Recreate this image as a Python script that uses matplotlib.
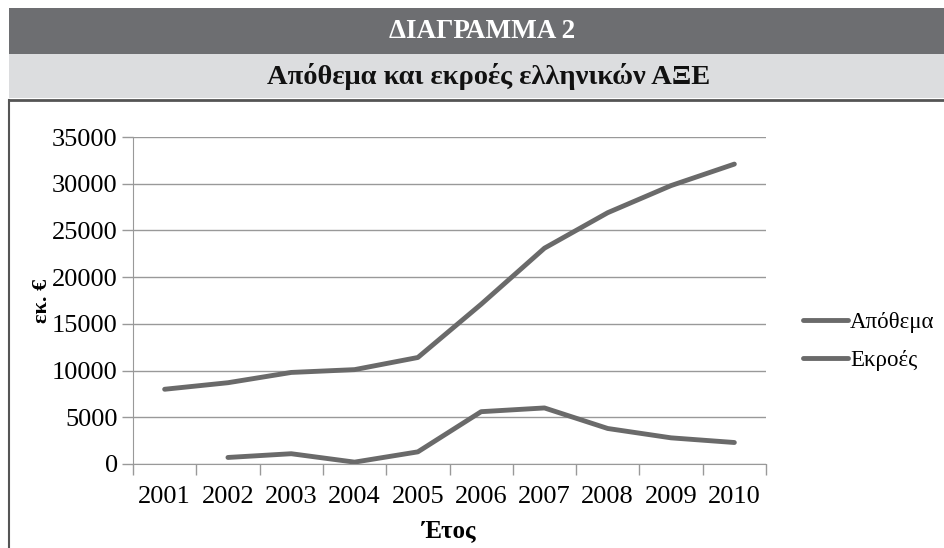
import matplotlib.pyplot as plt
from matplotlib.patches import Rectangle
from matplotlib.lines import Line2D

years = ['2001', '2002', '2003', '2004', '2005', '2006', '2007', '2008', '2009', '2010']
apothema = [8000, 8700, 9800, 10100, 11400, 17100, 23100, 26900, 29800, 32100]
ekroes = [None, 700, 1100, 200, 1300, 5600, 6000, 3800, 2800, 2300]

plt.rcParams['font.family'] = ['Liberation Serif', 'DejaVu Serif']

W, H = 945, 548
fig = plt.figure(figsize=(W / 100, H / 100), dpi=100)
fig.patch.set_facecolor('white')

# header bands
fig.add_artist(Rectangle((9 / W, 1 - 54 / H), 1, 46 / H, transform=fig.transFigure,
                         facecolor='#6d6e71', edgecolor='none'))
fig.add_artist(Rectangle((9 / W, 1 - 98 / H), 1, 44 / H, transform=fig.transFigure,
                         facecolor='#dcdddf', edgecolor='none'))
fig.text(482 / W, 1 - 31 / H, 'ΔΙΑΓΡΑΜΜΑ 2', color='white', fontsize=19.5, fontweight='bold',
         ha='center', va='center')
fig.text(489 / W, 1 - 77 / H, 'Απόθεμα και εκροές ελληνικών ΑΞΕ', color='#111111', fontsize=20.5,
         fontweight='bold', ha='center', va='center')

# frame lines
fig.add_artist(Line2D([9.5 / W, 1], [1 - 99.5 / H, 1 - 99.5 / H], transform=fig.transFigure,
                      color='#555555', lw=2))
fig.add_artist(Line2D([9.5 / W, 9.5 / W], [1 - 99.5 / H, 0], transform=fig.transFigure,
                      color='#555555', lw=1.5))

ax = fig.add_axes([133 / W, 1 - 464 / H, (766 - 133) / W, (464 - 137) / H])
x = list(range(len(years)))
line_color = '#6a6a6a'
ax.plot(x, apothema, color=line_color, lw=3.5, solid_capstyle='round', label='Απόθεμα')
ax.plot(x[1:], ekroes[1:], color=line_color, lw=3.5, solid_capstyle='round', label='Εκροές')

ax.set_xlim(-0.5, len(years) - 0.5)
ax.set_ylim(0, 35000)
ax.set_yticks(range(0, 35001, 5000))
ax.set_yticklabels([str(v) for v in range(0, 35001, 5000)], fontsize=19)
ax.set_xticks(x)
ax.set_xticklabels(years, fontsize=19)
ax.set_xticks([i - 0.5 for i in range(len(years) + 1)], minor=True)
ax.tick_params(axis='x', which='major', length=0, pad=16)
ax.tick_params(axis='x', which='minor', length=8, color='#999999', width=1)
ax.tick_params(axis='y', length=8, color='#999999', width=1, pad=3)

ax.grid(axis='y', color='#999999', lw=1)
ax.set_axisbelow(True)
for s in ['top', 'right']:
    ax.spines[s].set_visible(False)
ax.spines['left'].set_color('#999999')
ax.spines['bottom'].set_color('#999999')

ax.set_xlabel('Έτος', fontsize=18, fontweight='bold', labelpad=8)
ax.set_ylabel('εκ. €', fontsize=16, fontweight='bold', labelpad=0)

fig.legend(*ax.get_legend_handles_labels(), loc='center left',
           bbox_to_anchor=(803 / W, 1 - 341.5 / H), frameon=False, fontsize=16.5,
           handlelength=1.95, handletextpad=0.1, labelspacing=0.7,
           borderpad=0, borderaxespad=0)

fig.savefig('out.png', dpi=100)
